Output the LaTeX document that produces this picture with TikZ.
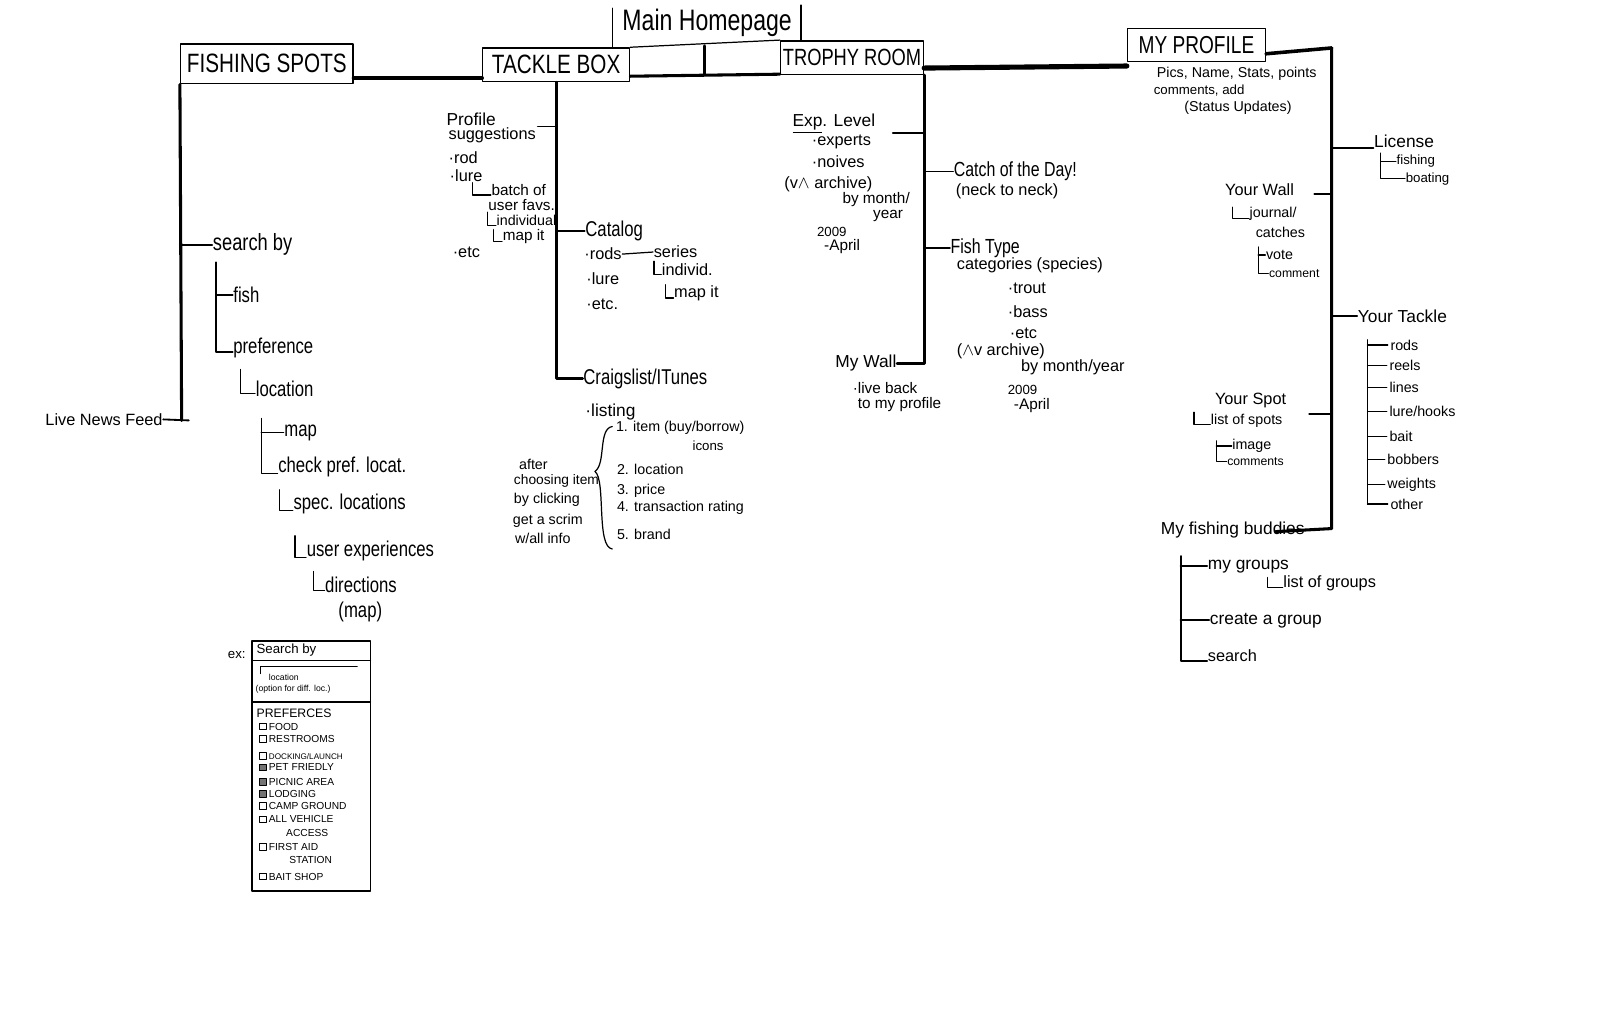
\documentclass[tikz,border=0pt]{standalone}
\usepackage{fontspec}
\setmainfont{Liberation Sans}
\newfontfamily\narrowf{Liberation Sans}[FakeStretch=0.78]
\newcommand\hsz[1]{\fontsize{#1}{#1}\selectfont}
\begin{document}
\begin{tikzpicture}[x=1pt,y=-1pt,line cap=round,line join=round,
  txt/.style={anchor=west,inner sep=0.5pt,font=\hsz{16}},
  nar/.style={anchor=west,inner sep=0.5pt,font=\narrowf\hsz{21}},
  hdr/.style={draw,line width=1.4pt,inner sep=0pt,font=\narrowf\hsz{26}},
  trunk/.style={line width=3pt},
  br/.style={line width=1.8pt},
  lk/.style={line width=1.2pt},
  cb/.style={draw,line width=0.8pt,minimum size=6.5pt,inner sep=0pt},
  cbx/.style={cb,fill=black!55},
  small/.style={anchor=west,inner sep=0.3pt,font=\hsz{10}}]
\useasboundingbox (0,0) rectangle (1568,1014);

% ---------- headers ----------
\node[hdr,minimum width=169pt,minimum height=39pt] (fs) at (261.5,62.5) {FISHING SPOTS};
\node[hdr,minimum width=144pt,minimum height=33pt] (tb) at (545,63.5) {TACKLE BOX};
\node[hdr,minimum width=140pt,minimum height=33pt,font=\narrowf\hsz{23}] (tr) at (835,56.5) {TROPHY ROOM};
\node[hdr,minimum width=135pt,minimum height=32pt,font=\narrowf\hsz{24}] (mp) at (1172.5,44) {MY PROFILE};
\node[font=\narrowf\hsz{29},inner sep=0pt] (home) at (693,22) {Main Homepage};
\coordinate (hl) at (600,8);
\coordinate (hr) at (785,5);
\draw[lk] (hl) -- (hl |- tb.north);
\draw[lk] (hr) -- (hr |- tr.north);
\draw[lk] (tb.north east) -- (tr.north west);
\coordinate (mid) at (690,45);
\draw[trunk] (mid) -- (690,73);
\draw[trunk] ([yshift=6pt]tb.south east) -- ([yshift=1pt]tr.south west);
\draw[line width=4pt] ([yshift=6pt]fs.south east) -- ([yshift=4pt]tb.south west);
\draw[line width=5pt] ([yshift=7pt]tr.south east) -- ([yshift=-4pt]mp.south west);
\coordinate (mpc) at (1305,47);
\coordinate (mpb) at (1305,518);
\coordinate (mpe) at (1250,521);
\draw[line width=3.5pt] ([yshift=8pt]mp.south east) -- (mpc);
\draw[trunk] (mpc) -- (mpb) -- (mpe);

% ---------- fishing spots ----------
\coordinate (fse) at (178,412);
\draw[trunk] (fs.south west) -- (fse);
\node[txt,anchor=east,font=\hsz{16}] (lnf) at (160,411) {Live News Feed};
\draw[br] (lnf.east) -- ([xshift=7pt]fse);
\node[nar,font=\narrowf\hsz{23}] (sb) at (208,240) {search by};
\draw[br] (fs.south west |- sb.west) -- (sb.west);
\node[nar] (fish) at (228,289) {fish};
\node[nar] (pref) at (228,341) {preference};
\coordinate (sbL) at (212,257);
\draw[br] (sbL) |- ([yshift=-4pt]pref.west);
\draw[br] (sbL |- fish.west) -- (fish.west);
\node[nar] (loc) at (250,381) {location};
\draw[lk] (236,362) |- ([yshift=-5pt]loc.west);
\node[nar] (map) at (278,424) {map};
\node[nar] (cpl) at (272,458) {check pref. locat.};
\coordinate (mL) at (256,410);
\draw[lk] (mL) |- ([yshift=-6pt]cpl.west);
\draw[lk] (mL |- map.west) -- (map.west);
\node[nar] (spec) at (287,494) {spec. locations};
\draw[lk] (274,480) |- ([yshift=-6pt]spec.west);
\node[nar] (uexp) at (300,540) {user experiences};
\draw[lk] (289,525) |- ([yshift=-6pt]uexp.west);
\node[nar] (dir) at (318,573) {directions};
\draw[lk] (307,560) |- ([yshift=-6pt]dir.west);
\node[nar] (dmap) at (331,600) {(map)};

% example box
\node[draw,line width=1.4pt,minimum width=116pt,minimum height=245pt,inner sep=0pt] (ex) at (305,750.5) {};
\node[font=\hsz{13},inner sep=0pt] (exl) at (232,642) {ex:};
\node[small,font=\hsz{13}] (exsb) at (251,637) {Search by};
\draw[lk] (247,647) -- (363,647);
\draw[lk] (350,653) -- (255,653) -- (255,660);
\node[small,font=\hsz{8.5}] (exloc) at (263,664) {location};
\node[small,font=\hsz{8.5}] (exopt) at (250,675) {(option for diff. loc.)};
\draw[lk] (247,688) -- (363,688);
\node[small,font=\hsz{12}] (pf) at (251,699) {PREFERCES};
\node[cb] (c1) at (257.5,712) {}; \node[small] at (263,712) {FOOD};
\node[cb] (c2) at (257.5,724) {}; \node[small] at (263,724) {RESTROOMS};
\node[cb] (c3) at (257.5,741) {}; \node[small,font=\hsz{8}] at (263,741) {DOCKING/LAUNCH};
\node[cbx] (c4) at (257.5,752) {}; \node[small] at (263,752) {PET FRIEDLY};
\node[cbx] (c5) at (257.5,766) {}; \node[small] at (263,766) {PICNIC AREA};
\node[cbx] (c6) at (257.5,778) {}; \node[small] at (263,778) {LODGING};
\node[cb] (c7) at (257.5,790) {}; \node[small] at (263,790) {CAMP GROUND};
\node[cb] (c8) at (257.5,803) {}; \node[small] at (263,803) {ALL VEHICLE};
\node[small] at (280,816) {ACCESS};
\node[cb] (c9) at (257.5,830) {}; \node[small] at (263,830) {FIRST AID};
\node[small] at (283,843) {STATION};
\node[cb] (c10) at (257.5,859) {}; \node[small] at (263,859) {BAIT SHOP};

% ---------- tackle box ----------
\node[nar] (cl) at (571,371) {Craigslist/ITunes};
\draw[trunk] (tb.south) -- (tb.south |- cl.west) -- (cl.west);
\node[txt,font=\hsz{17}] (ps1) at (437,117) {Profile};
\node[txt] (ps2) at (439,133) {suggestions};
\coordinate (pst) at (527,124);
\draw[br] (pst) -- (pst -| tb.south);
\node[txt] (rod) at (439,155) {·rod};
\node[txt] (lure) at (440,172) {·lure};
\node[txt,font=\hsz{15}] (bat) at (481,186) {batch of};
\draw[lk] (463,179) |- ([yshift=-5pt]bat.west);
\node[txt,font=\hsz{15}] (ufav) at (478,201) {user favs.};
\node[txt,font=\hsz{14}] (ind) at (486,216) {individual};
\draw[lk] (478,208) |- ([yshift=-5pt]ind.west);
\node[txt,font=\hsz{15}] (mapit) at (492,232) {map it};
\draw[lk] (484,225) |- ([yshift=-5pt]mapit.west);
\node[txt] (etc1) at (443,247) {·etc};

\node[nar] (cat) at (573,226) {Catalog};
\draw[br] (tb.south |- cat.west) -- (cat.west);
\node[txt] (rods) at (572,249) {·rods};
\node[txt] (series) at (640,247) {series};
\draw[lk] (rods.east) -- (series.west);
\node[txt] (indv) at (648,264) {individ.};
\draw[lk] (641,256) |- ([yshift=-5pt]indv.west);
\node[txt] (mapit2) at (660,287) {map it};
\draw[lk] (652,279) |- ([yshift=-5pt]mapit2.west);
\node[txt] (lure3) at (574,273) {·lure};
\node[txt] (etc2) at (574,298) {·etc.};

\node[txt,font=\hsz{17}] (lst) at (573,404) {·listing};
\draw[lk] (600,418) .. controls (586,420) and (594,455) .. (583,462) .. controls (594,470) and (584,536) .. (600,538);
\node[txt,font=\hsz{14}] (i1) at (603,419) {1. item (buy/borrow)};
\node[txt,font=\hsz{13}] (icn) at (678,437) {icons};
\node[txt,font=\hsz{14}] (i2) at (604,460) {2. location};
\node[txt,font=\hsz{14}] (i3) at (604,481) {3. price};
\node[txt,font=\hsz{14}] (i4) at (604,498) {4. transaction rating};
\node[txt,font=\hsz{14}] (i5) at (604,524) {5. brand};
\node[txt,font=\hsz{14}] (a1) at (508,455) {after};
\node[txt,font=\hsz{13.5}] (a2) at (503,471) {choosing item};
\node[txt,font=\hsz{14}] (a3) at (503,490) {by clicking};
\node[txt,font=\hsz{14}] (a4) at (502,510) {get a scrim};
\node[txt,font=\hsz{14}] (a5) at (504,528) {w/all info};

% ---------- trophy room ----------
\node[txt,font=\hsz{17}] (mw) at (818,356) {My Wall};
\draw[trunk] (tr.south east) -- (tr.south east |- mw.east) -- (mw.east);
\node[txt,font=\hsz{17}] (exp) at (776,121) {\underline{Exp}. Level};
\coordinate (expt) at (875,130);
\draw[br] (expt) -- (expt -| tr.south east);
\node[txt] (expr) at (795,139) {·experts};
\node[txt] (nov) at (795,158) {·noives};
\node[txt] (ar1) at (768,181) {(v$\wedge$ archive)};
\node[txt,font=\hsz{15}] (bym) at (825,196) {by month/};
\node[txt,font=\hsz{15}] (yr) at (855,212) {year};
\node[txt,font=\hsz{13}] (y1) at (800,227) {2009};
\node[txt,font=\hsz{15}] (ap1) at (807,242) {-April};
\node[nar,font=\narrowf\hsz{20}] (cod) at (934,168) {Catch of the Day!};
\draw[br] (tr.south east |- cod.west) -- (cod.west);
\node[txt] (neck) at (936,187) {(neck to neck)};
\node[nar,font=\narrowf\hsz{20}] (ft) at (931,243) {Fish Type};
\draw[br] (tr.south east |- ft.west) -- (ft.west);
\node[txt] (catg) at (937,260) {categories (species)};
\node[txt] (trout) at (987,283) {·trout};
\node[txt] (bass) at (987,305) {·bass};
\node[txt] (etc3) at (989,327) {·etc};
\node[txt] (ar2) at (937,344) {($\wedge$v archive)};
\node[txt] (bmy) at (1000,360) {by month/year};
\node[txt,font=\hsz{13}] (y2) at (987,382) {2009};
\node[txt,font=\hsz{15}] (ap2) at (993,397) {-April};
\node[txt,font=\hsz{15}] (lb) at (835,380) {·live back};
\node[txt,font=\hsz{15}] (tmp) at (840,396) {to my profile};

% ---------- my profile ----------
\node[txt,font=\hsz{14}] (pics) at (1133,72) {Pics, Name, Stats, points};
\node[txt,font=\hsz{13}] (cma) at (1130,89) {comments, add};
\node[txt,font=\hsz{14}] (stu) at (1160,106) {(Status Updates)};
\node[txt,font=\hsz{17}] (lic) at (1346,138) {License};
\draw[br] ([yshift=-7pt]lic.west) -- ([yshift=-7pt]lic.west -| mpc);
\node[txt,font=\hsz{13}] (fishg) at (1368,158) {fishing};
\node[txt,font=\hsz{13}] (boat) at (1377,175) {boating};
\coordinate (licL) at (1353,150);
\draw[lk] (licL) |- (boat.west);
\draw[lk] (licL |- fishg.west) -- (fishg.west);

\node[txt] (yw) at (1200,186) {Your Wall};
\coordinate (ywt) at (1288,190);
\draw[br] (ywt) -- (ywt -| mpc);
\node[txt,font=\hsz{14}] (jour) at (1224,210) {journal/};
\draw[lk] (1208,203) |- ([yshift=-4pt]jour.west);
\node[txt,font=\hsz{14}] (catc) at (1230,228) {catches};
\node[txt,font=\hsz{14}] (vote) at (1240,250) {vote};
\node[txt,font=\hsz{12}] (comm) at (1243,268) {comment};
\coordinate (vL) at (1233,242);
\draw[lk] (vL) |- (comm.west);
\draw[lk] (vL |- vote.west) -- (vote.west);

\node[txt,font=\hsz{17}] (yt) at (1330,310) {Your Tackle};
\draw[br] (mpc |- yt.west) -- (yt.west);
\coordinate (ytL) at (1340,333);
\node[txt,font=\hsz{14}] (rods2) at (1362,338) {rods};
\node[txt,font=\hsz{14}] (reels) at (1361,358) {reels};
\node[txt,font=\hsz{14}] (lines) at (1361,380) {lines};
\node[txt,font=\hsz{14}] (lure2) at (1361,403) {lure/hooks};
\node[txt,font=\hsz{14}] (bait) at (1361,428) {bait};
\node[txt,font=\hsz{14}] (bob) at (1359,450) {bobbers};
\node[txt,font=\hsz{14}] (wt) at (1359,475) {weights};
\node[txt,font=\hsz{14}] (oth) at (1362,494) {other};
\draw[lk] (ytL) -- (ytL |- oth.west);
\foreach \k in {rods2,reels,lines,lure2,bait,bob,wt,oth}
  \draw[lk] (ytL |- \k.west) -- ([xshift=-2pt]\k.west);

\node[txt] (ysp) at (1190,392) {Your Spot};
\coordinate (yst) at (1283,406);
\draw[br] (yst) -- (yst -| mpc);
\node[txt,font=\hsz{14}] (los) at (1186,412) {list of spots};
\draw[lk] (1170,404) |- ([yshift=-4pt]los.west);
\node[txt,font=\hsz{14}] (img) at (1207,437) {image};
\node[txt,font=\hsz{12}] (icm) at (1202,452) {comments};
\coordinate (iL) at (1192,432);
\draw[lk] (iL) |- (icm.west);
\draw[lk] (iL |- img.west) -- (img.west);

\node[txt,font=\hsz{17}] (mfb) at (1137,519) {My fishing buddies};
\coordinate (bL) at (1157,545);
\node[txt,font=\hsz{17}] (mg) at (1183,555) {my groups};
\node[txt,font=\hsz{16}] (log) at (1257,572) {list of groups};
\draw[lk] (1242,566) |- ([yshift=-4pt]log.west);
\node[txt,font=\hsz{17}] (cg) at (1185,608) {create a group};
\node[txt,font=\hsz{16}] (srch) at (1183,643) {search};
\draw[br] (bL) |- ([yshift=-5pt]srch.west);
\draw[br] (bL |- mg.west) -- (mg.west);
\draw[br] (bL |- cg.west) -- (cg.west);
\end{tikzpicture}
\end{document}
